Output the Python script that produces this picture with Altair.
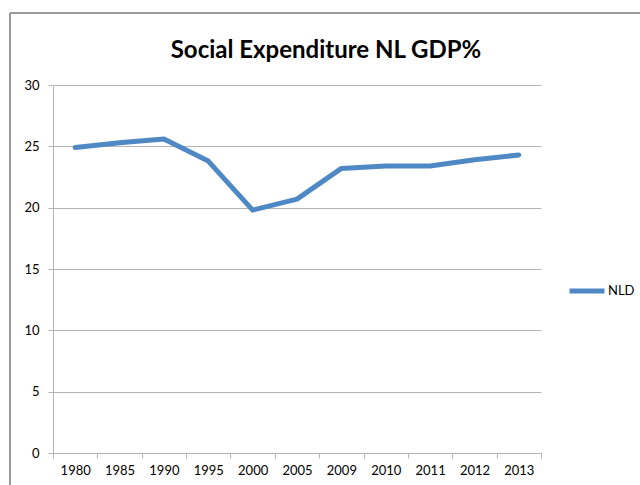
import altair as alt
import pandas as pd

years = ["1980", "1985", "1990", "1995", "2000", "2005", "2009", "2010", "2011", "2012", "2013"]
values = [24.9, 25.3, 25.6, 23.8, 19.8, 20.7, 23.2, 23.4, 23.4, 23.9, 24.3]
series = ["NLD"] * len(years)
title_text = "Social Expenditure NL GDP%"

df = pd.DataFrame({"year": years, "value": values, "series": series})

FONT = "Lato"
GRID = "#b5b5b5"
BLUE = "#4f89c5"

line = alt.Chart(df).mark_line(strokeWidth=5, strokeCap="round", strokeJoin="round").encode(
    x=alt.X("year:N", sort=years, bandPosition=0.5,
            scale=alt.Scale(type="band", paddingInner=0, paddingOuter=0),
            axis=alt.Axis(title=None, labelAngle=0, tickBand="extent", grid=False,
                          domainColor=GRID, tickColor=GRID, tickSize=5,
                          labelFontSize=13, labelFont=FONT, labelColor="#000",
                          labelPadding=6)),
    y=alt.Y("value:Q", scale=alt.Scale(domain=[0, 30]),
            axis=alt.Axis(title=None, values=[0, 5, 10, 15, 20, 25, 30], grid=True,
                          gridColor=GRID, domainColor=GRID, tickColor=GRID, tickSize=5,
                          labelFontSize=13, labelFont=FONT, labelColor="#000",
                          labelPadding=9)),
    color=alt.Color("series:N", scale=alt.Scale(range=[BLUE]),
                    legend=alt.Legend(title=None, orient="none", legendX=514, legendY=186,
                                      symbolType="stroke", symbolStrokeWidth=5,
                                      symbolSize=1225, labelFontSize=13, labelFont=FONT,
                                      labelColor="#000", labelOffset=1)),
)

frame_v = alt.Chart(df).mark_rule(color="#9a9a9a", strokeWidth=1.5).encode(
    x=alt.value(-43), y=alt.value(-72), y2=alt.value(420)
)
frame_h = alt.Chart(df).mark_rule(color="#9a9a9a", strokeWidth=1.5).encode(
    x=alt.value(-43), x2=alt.value(620), y=alt.value(-72)
)

title = alt.Chart(pd.DataFrame({"t": [title_text]})).mark_text(
    font=FONT, fontSize=24, fontWeight="bold", color="#000",
    align="center", baseline="alphabetic"
).encode(text="t:N", x=alt.value(273), y=alt.value(-27))

chart = alt.layer(frame_v, frame_h, title, line).properties(
    width=488, height=368,
    autosize=alt.AutoSizeParams(type="none"),
    padding={"left": 53, "top": 85, "right": 99, "bottom": 32},
).configure_view(stroke=None)

chart.save("out.html", embed_options={"renderer": "svg", "actions": False})
